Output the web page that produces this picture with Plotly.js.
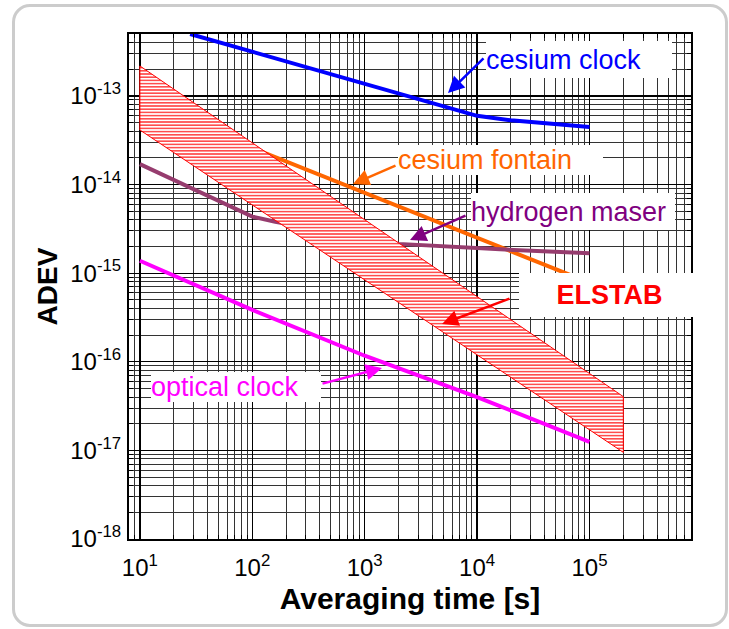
<!DOCTYPE html>
<html>
<head>
<meta charset="utf-8">
<script src="https://cdn.plot.ly/plotly-3.0.1.min.js"></script>
<style>
  html, body { margin: 0; padding: 0; background: #ffffff; overflow: hidden; }
  #frame { position: absolute; left: 12px; top: 4px; width: 716px; height: 623px;
           border: 3px solid #cccccc; border-radius: 18px; box-sizing: border-box; }
  #chart { position: absolute; left: 0; top: 0; width: 729px; height: 629px; }
</style>
</head>
<body>
<div id="frame"></div>
<div id="chart"></div>
<script>
// ---- data ----
const cesiumClockTau = [28, 100, 1000, 3000, 8000, 10000, 20000, 100000];
const cesiumClockAdev = [5.0e-13, 3.17e-13, 1.39e-13, 9.35e-14, 6.6e-14, 5.96e-14, 5.31e-14, 4.47e-14];

const cesiumFountainTau = [10, 100, 1000, 10000, 100000];
const cesiumFountainAdev = [8.3e-14, 2.57e-14, 8.0e-15, 2.49e-15, 7.8e-16];

const hydrogenMaserTau = [10, 100, 160, 2000, 16000, 100000];
const hydrogenMaserAdev = [1.7e-14, 4.35e-15, 3.8e-15, 2.14e-15, 1.86e-15, 1.68e-15];

const opticalClockTau = [10, 100, 1000, 10000, 100000];
const opticalClockAdev = [1.38e-15, 3.85e-16, 1.17e-16, 4.0e-17, 1.25e-17];

// ELSTAB band: upper and lower edges
const elstabTau = [10, 200000];
const elstabUpper = [2.18e-13, 4.04e-17];
const elstabLower = [4.13e-14, 9.5e-18];

// tick labels
const xTickVals = [10, 100, 1000, 10000, 100000];
const xTickText = ['10<sup>1</sup>', '10<sup>2</sup>', '10<sup>3</sup>', '10<sup>4</sup>', '10<sup>5</sup>'];
const yTickVals = [1e-18, 1e-17, 1e-16, 1e-15, 1e-14, 1e-13];
const yTickText = ['10<sup>-18</sup>', '10<sup>-17</sup>', '10<sup>-16</sup>', '10<sup>-15</sup>', '10<sup>-14</sup>', '10<sup>-13</sup>'];

const labels = ['cesium clock', 'cesium fontain', 'hydrogen maser', 'ELSTAB', 'optical clock'];

// ---- helpers ----
function minorVals(e0, e1) {
  const v = [];
  for (let e = e0; e <= e1; e++) for (let m = 2; m <= 9; m++) v.push(m * Math.pow(10, e));
  return v;
}
const FONT = 'Liberation Sans, Arial, sans-serif';

const bandX = [elstabTau[0], elstabTau[1], elstabTau[1], elstabTau[0], elstabTau[0]];
const bandY = [elstabUpper[0], elstabUpper[1], elstabLower[1], elstabLower[0], elstabUpper[0]];

const traces = [
  { x: cesiumClockTau, y: cesiumClockAdev, mode: 'lines', line: { color: '#0000ff', width: 4 }, name: labels[0] },
  { x: cesiumFountainTau, y: cesiumFountainAdev, mode: 'lines', line: { color: '#ff6600', width: 4 }, name: labels[1] },
  { x: hydrogenMaserTau, y: hydrogenMaserAdev, mode: 'lines', line: { color: '#963c6e', width: 4 }, name: labels[2] },
  { x: opticalClockTau, y: opticalClockAdev, mode: 'lines', line: { color: '#ff00ff', width: 4 }, name: labels[4] },
  { x: bandX, y: bandY, mode: 'lines', fill: 'toself', fillcolor: 'rgba(0,0,0,0)',
    fillpattern: { shape: '-', fgcolor: '#ff2020', bgcolor: '#ffffff', size: 3.2, solidity: 0.4 },
    line: { color: '#ff0000', width: 1 }, name: labels[3] }
];

const axisCommon = {
  type: 'log', showline: true, linecolor: '#000', linewidth: 2, mirror: 'ticks',
  ticks: 'inside', ticklen: 7, tickcolor: '#000', tickwidth: 1,
  showgrid: true, gridcolor: '#000', gridwidth: 1.3, zeroline: false,
  tickmode: 'array', tickfont: { family: FONT, size: 24, color: '#000' }
};

const L = 129, R = 691, T = 34, B = 539;
function px(xp) { return (xp - L) / (R - L); }
function py(yp) { return (B - yp) / (B - T); }

function box(i, x0, y0, w, h, color, bold, align) {
  return {
    xref: 'paper', yref: 'paper', x: px(x0), y: py(y0), xanchor: 'left', yanchor: 'top',
    width: w, height: h, align: align || 'left', valign: 'middle', showarrow: false,
    bgcolor: '#ffffff', borderpad: 0, borderwidth: 0,
    text: bold ? '<b>' + labels[i] + '</b>' : labels[i],
    font: { family: FONT, size: 27, color: color }
  };
}
function arrow(tipX, tipY, tailX, tailY, color) {
  return {
    xref: 'paper', yref: 'paper', x: px(tipX), y: py(tipY), ax: tailX - tipX, ay: tailY - tipY,
    text: '', showarrow: true, arrowhead: 2, arrowsize: 1.3, arrowwidth: 2.5, arrowcolor: color,
    standoff: 0, startstandoff: 0
  };
}

const layout = {
  width: 729, height: 629,
  margin: { l: L, r: 729 - R, t: T, b: 629 - B, pad: 0 },
  paper_bgcolor: 'rgba(0,0,0,0)', plot_bgcolor: '#ffffff',
  showlegend: false,
  xaxis: Object.assign({}, axisCommon, {
    range: [Math.log10(8), Math.log10(8e5)],
    tickvals: xTickVals, ticktext: xTickText, ticklabelstandoff: 6,
    minor: { tickmode: 'array', tickvals: minorVals(0, 5), showgrid: true, gridcolor: '#333', gridwidth: 1, ticks: 'inside', ticklen: 4, tickcolor: '#000' },
    title: { text: '<b>Averaging time [s]</b>', font: { family: FONT, size: 30, color: '#000' }, standoff: 8 }
  }),
  yaxis: Object.assign({}, axisCommon, {
    range: [-18, Math.log10(5e-13)],
    tickvals: yTickVals, ticktext: yTickText, ticklabelstandoff: 1,
    minor: { tickmode: 'array', tickvals: minorVals(-18, -13), showgrid: true, gridcolor: '#333', gridwidth: 1, ticks: 'inside', ticklen: 4, tickcolor: '#000' },
    title: { text: '<b>ADEV</b>', font: { family: FONT, size: 28, color: '#000' }, standoff: 4 }
  }),
  annotations: [
    box(0, 486, 41, 186, 37, '#0000ff', false, 'left'),
    box(1, 398, 145, 205, 30, '#ff6600', false, 'left'),
    box(2, 471, 193, 204, 37, '#800080', false, 'left'),
    box(3, 519, 273, 181, 44, '#ff0000', true, 'center'),
    box(4, 151, 372, 170, 30, '#ff00ff', false, 'left'),
    arrow(448, 93, 485, 57, '#0000ff'),
    arrow(353, 184, 397, 165, '#ff6600'),
    arrow(410, 240, 467, 215, '#800080'),
    arrow(442, 324, 511, 298, '#ff0000'),
    arrow(382, 368, 321, 384, '#ff00ff')
  ]
};

Plotly.newPlot('chart', traces, layout, { staticPlot: true, displayModeBar: false });
</script>
</body>
</html>
